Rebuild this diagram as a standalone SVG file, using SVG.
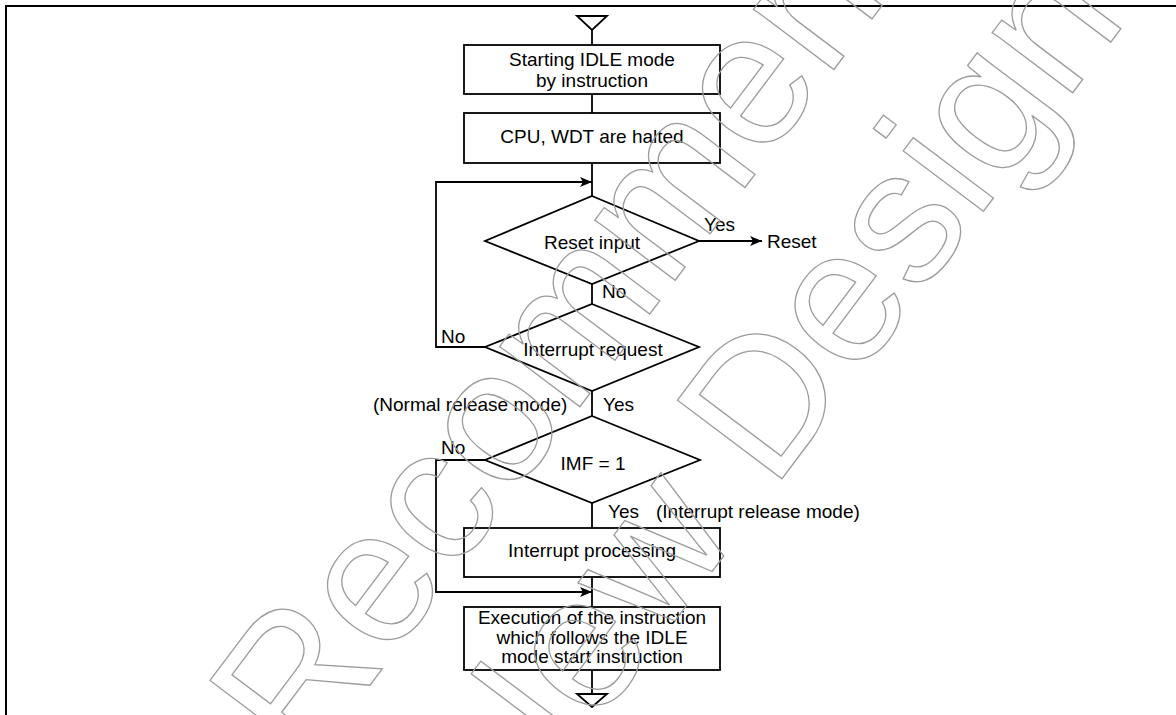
<svg xmlns="http://www.w3.org/2000/svg" width="1176" height="715" viewBox="0 0 1176 715">
<defs>
<style>
.shape{fill:#fff;stroke:#000;stroke-width:1.8}
.line{fill:none;stroke:#000;stroke-width:1.8}
.t{font-family:"Liberation Sans",Arial,sans-serif;font-size:19px;fill:#000}
.c{text-anchor:middle}
.wm{font-family:"Liberation Sans",Arial,sans-serif;font-size:190px;fill:none;stroke:#9c9c9c;stroke-width:1.3}
</style>
<marker id="arr" viewBox="0 0 12 10" refX="12" refY="5" markerWidth="12" markerHeight="10" markerUnits="userSpaceOnUse" orient="auto">
<path d="M0,0 L12,5 L0,10 L3,5 Z" fill="#000"/>
</marker>
</defs>
<rect width="1176" height="715" fill="#fff"/>
<g id="frame">
<path d="M6,715 V6 H1176" fill="none" stroke="#000" stroke-width="2"/>
</g>
<g id="connectors">
<polygon class="line" points="577,16 607,16 592,30"/>
<line class="line" x1="592" y1="30" x2="592" y2="45"/>
<line class="line" x1="592" y1="94" x2="592" y2="113"/>
<line class="line" x1="592" y1="163" x2="592" y2="196"/>
<line class="line" x1="699" y1="241" x2="762" y2="241" marker-end="url(#arr)"/>
<line class="line" x1="592" y1="284" x2="592" y2="304"/>
<polyline class="line" points="485,347 436,347 436,182 592,182" marker-end="url(#arr)"/>
<line class="line" x1="592" y1="391" x2="592" y2="416"/>
<polyline class="line" points="485,460 436,460 436,592 592,592" marker-end="url(#arr)"/>
<line class="line" x1="592" y1="503" x2="592" y2="528"/>
<line class="line" x1="592" y1="577" x2="592" y2="607"/>
<line class="line" x1="592" y1="670" x2="592" y2="694"/>
<polygon class="line" points="577,694 607,694 592,707"/>
<text class="t" x="704" y="231">Yes</text>
<text class="t" x="602" y="298">No</text>
<text class="t" x="441" y="343">No</text>
<text class="t" x="373" y="411">(Normal release mode)</text>
<text class="t" x="603" y="411">Yes</text>
<text class="t" x="441" y="454">No</text>
<text class="t" x="608" y="518">Yes</text>
<text class="t" x="656" y="518">(Interrupt release mode)</text>
</g>
<g id="start-idle">
<rect class="shape" x="464" y="45" width="256" height="49"/>
<text class="t c" x="592" y="66">Starting IDLE mode</text>
<text class="t c" x="592" y="87">by instruction</text>
</g>
<g id="cpu-halted">
<rect class="shape" x="464" y="113" width="256" height="50"/>
<text class="t c" x="592" y="143">CPU, WDT are halted</text>
</g>
<g id="reset-input">
<polygon class="shape" points="592,196 699,241 592,284 485,241"/>
<text class="t c" x="592" y="249">Reset input</text>
</g>
<g id="reset">
<text class="t" x="767" y="248">Reset</text>
</g>
<g id="interrupt-request">
<polygon class="shape" points="592,304 699,347 592,391 485,347"/>
<text class="t c" x="593" y="356">Interrupt request</text>
</g>
<g id="imf">
<polygon class="shape" points="592,416 700,460 592,503 485,460"/>
<text class="t c" x="593" y="470">IMF = 1</text>
</g>
<g id="interrupt-processing">
<rect class="shape" x="464" y="528" width="256" height="49"/>
<text class="t c" x="592" y="557">Interrupt processing</text>
</g>
<g id="execution">
<rect class="shape" x="464" y="607" width="256" height="63"/>
<text class="t c" x="592" y="624">Execution of the instruction</text>
<text class="t c" x="592" y="643.5">which follows the IDLE</text>
<text class="t c" x="592" y="663">mode start instruction</text>
</g>
<g id="watermark">
<text class="wm" transform="translate(305,771.5) rotate(-53)">Recommended</text>
<text class="wm" transform="translate(512,837) rotate(-53)">New Design</text>
</g>
</svg>
